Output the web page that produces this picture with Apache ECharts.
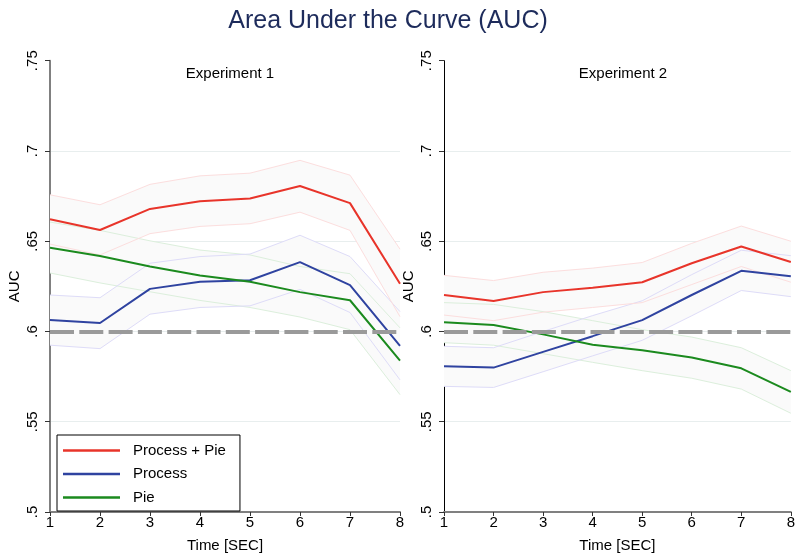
<!DOCTYPE html>
<html>
<head>
<meta charset="utf-8">
<script src="https://cdn.jsdelivr.net/npm/echarts@6/dist/echarts.min.js"></script>
<style>
html,body{margin:0;padding:0;background:#fff;}
#chart{width:798px;height:558px;}
</style>
</head>
<body>
<div id="chart"></div>
<script>
// ---- data ----
var time = [1, 2, 3, 4, 5, 6, 7, 8];
var yTicks = [0.5, 0.55, 0.6, 0.65, 0.7, 0.75];
var seriesNames = ['Process + Pie', 'Process', 'Pie'];
var panelTitles = ['Experiment 1', 'Experiment 2'];
var chanceLevel = 0.6;

// Experiment 1
var pp1      = [0.6622, 0.6562, 0.6679, 0.6721, 0.6737, 0.6806, 0.6711, 0.6264];
var pp1Upper = [0.6757, 0.6702, 0.6815, 0.6862, 0.6877, 0.6948, 0.6866, 0.6456];
var pp1Lower = [0.6484, 0.6424, 0.6542, 0.6582, 0.6597, 0.6661, 0.6560, 0.6082];
var proc1      = [0.6063, 0.6047, 0.6236, 0.6275, 0.6284, 0.6384, 0.6257, 0.5920];
var proc1Upper = [0.6202, 0.6187, 0.6378, 0.6415, 0.6429, 0.6533, 0.6415, 0.6110];
var proc1Lower = [0.5924, 0.5905, 0.6096, 0.6133, 0.6142, 0.6233, 0.6105, 0.5732];
var pie1      = [0.6464, 0.6418, 0.6360, 0.6310, 0.6275, 0.6218, 0.6173, 0.5838];
var pie1Upper = [0.6606, 0.6560, 0.6502, 0.6451, 0.6424, 0.6360, 0.6320, 0.6020];
var pie1Lower = [0.6324, 0.6269, 0.6220, 0.6172, 0.6133, 0.6080, 0.6010, 0.5650];

// Experiment 2
var pp2      = [0.6202, 0.6169, 0.6218, 0.6242, 0.6273, 0.6378, 0.6471, 0.6385];
var pp2Upper = [0.6311, 0.6282, 0.6328, 0.6351, 0.6382, 0.6488, 0.6584, 0.6500];
var pp2Lower = [0.6091, 0.6060, 0.6107, 0.6133, 0.6160, 0.6260, 0.6360, 0.6273];
var proc2      = [0.5807, 0.5800, 0.5887, 0.5974, 0.6063, 0.6202, 0.6336, 0.6306];
var proc2Upper = [0.5918, 0.5910, 0.6000, 0.6088, 0.6170, 0.6315, 0.6450, 0.6420];
var proc2Lower = [0.5696, 0.5690, 0.5777, 0.5865, 0.5951, 0.6087, 0.6227, 0.6193];
var pie2      = [0.6051, 0.6036, 0.5984, 0.5927, 0.5896, 0.5856, 0.5796, 0.5665];
var pie2Upper = [0.6160, 0.6150, 0.6110, 0.6060, 0.6010, 0.5969, 0.5910, 0.5783];
var pie2Lower = [0.5938, 0.5924, 0.5877, 0.5829, 0.5783, 0.5741, 0.5681, 0.5547];

// ---- styles ----
var FONT = 'Liberation Sans, Arial, Helvetica, sans-serif';
var lineColors = ['#e8342a', '#2f43a0', '#1b8a1e'];
var faintColors = ['#fcdede', '#dedcf8', '#dcefdc'];
var bandFill = '#fafafa';

var panels = [
  {main: [pp1, proc1, pie1], upper: [pp1Upper, proc1Upper, pie1Upper], lower: [pp1Lower, proc1Lower, pie1Lower]},
  {main: [pp2, proc2, pie2], upper: [pp2Upper, proc2Upper, pie2Upper], lower: [pp2Lower, proc2Lower, pie2Lower]}
];

function pts(arr) { return time.map(function (t, i) { return [t, arr[i]]; }); }
function fmt(v) {
  var s = v.toFixed(2).replace(/0+$/, '').replace(/\.$/, '');
  return s.replace(/^0\./, '.');
}

// band polygon drawn through the axis scales
function bandRender(params, api) {
  if (params.dataIndexInside !== 0) return null;
  var n = params.dataInsideLength;
  var top = [], bot = [];
  for (var j = 0; j < n; j++) {
    var t = api.value(0, j);
    top.push(api.coord([t, api.value(1, j)]));
    bot.unshift(api.coord([t, api.value(2, j)]));
  }
  return {
    type: 'polygon',
    shape: {points: top.concat(bot)},
    style: {fill: bandFill, stroke: null},
    silent: true
  };
}

var series = [];
panels.forEach(function (p, g) {
  // bands: Pie first, then Process, then Process + Pie on top
  [2, 1, 0].forEach(function (k) {
    series.push({
      type: 'custom', xAxisIndex: g, yAxisIndex: g, silent: true, z: 1,
      renderItem: bandRender,
      encode: {x: 0, y: [1, 2]},
      data: time.map(function (t, i) { return [t, p.upper[k][i], p.lower[k][i]]; })
    });
    [p.upper[k], p.lower[k]].forEach(function (arr) {
      series.push({
        type: 'line', xAxisIndex: g, yAxisIndex: g, silent: true,
        showSymbol: false, symbol: 'none', z: 1,
        data: pts(arr),
        lineStyle: {color: faintColors[k], width: 1},
        itemStyle: {color: faintColors[k]}
      });
    });
  });
  // chance level dashed line
  series.push({
    type: 'line', xAxisIndex: g, yAxisIndex: g, data: [], silent: true, z: 2,
    markLine: {
      silent: true, symbol: ['none', 'none'], label: {show: false},
      lineStyle: {color: '#9a9a9a', width: 4, type: [24, 5.3]},
      data: [{yAxis: chanceLevel}], animation: false
    }
  });
  // main lines
  [0, 1, 2].forEach(function (k) {
    series.push({
      name: seriesNames[k], type: 'line', xAxisIndex: g, yAxisIndex: g,
      showSymbol: false, symbol: 'none', z: 3,
      data: pts(p.main[k]),
      lineStyle: {color: lineColors[k], width: 2},
      itemStyle: {color: lineColors[k]}
    });
  });
});

function xAxisCfg(g) {
  return {
    gridIndex: g, type: 'value', min: time[0], max: time[time.length - 1], interval: 1,
    name: 'Time [SEC]', nameLocation: 'middle', nameGap: 26,
    nameTextStyle: {fontSize: 15, color: '#000', fontFamily: FONT},
    axisLine: {show: true, onZero: false, lineStyle: {color: '#808080', width: 2}},
    axisTick: {show: true, length: 4, lineStyle: {color: '#333', width: 1}},
    axisLabel: {fontSize: 15, color: '#000', margin: 3, fontFamily: FONT},
    splitLine: {show: false}
  };
}
function yAxisCfg(g) {
  return {
    gridIndex: g, type: 'value', min: yTicks[0], max: yTicks[yTicks.length - 1], interval: 0.05,
    name: 'AUC', nameLocation: 'middle', nameGap: 28, nameRotate: 90,
    nameTextStyle: {fontSize: 15, color: '#000', fontFamily: FONT},
    axisLine: {show: true, lineStyle: {color: g === 0 ? '#808080' : '#000', width: g === 0 ? 2 : 1}},
    axisTick: {show: true, length: 5, lineStyle: {color: '#333', width: 1}},
    axisLabel: {fontSize: 15, color: '#000', rotate: 90, margin: 10, fontFamily: FONT, formatter: fmt},
    splitLine: {show: true, showMinLine: false, showMaxLine: false, lineStyle: {color: '#e8eeee', width: 1}}
  };
}

var option = {
  backgroundColor: '#fff',
  animation: false,
  textStyle: {fontFamily: FONT},
  title: [
    {text: 'Area Under the Curve (AUC)', left: 383, top: 4, textAlign: 'center',
     textStyle: {fontSize: 25, fontWeight: 'normal', color: '#1d2b5b', fontFamily: FONT}},
    {text: panelTitles[0], left: 225, top: 61, textAlign: 'center',
     textStyle: {fontSize: 15, fontWeight: 'normal', color: '#000', fontFamily: FONT}},
    {text: panelTitles[1], left: 618, top: 61, textAlign: 'center',
     textStyle: {fontSize: 15, fontWeight: 'normal', color: '#000', fontFamily: FONT}}
  ],
  grid: [
    {left: 50, width: 350, top: 60.7, height: 456},
    {left: 444, width: 349, top: 60.7, height: 456}
  ],
  xAxis: [xAxisCfg(0), xAxisCfg(1)],
  yAxis: [yAxisCfg(0), yAxisCfg(1)],
  legend: {
    orient: 'vertical', left: 57, top: 435,
    data: seriesNames.map(function (n, k) { return {name: n, icon: 'rect', itemStyle: {color: lineColors[k]}}; }),
    itemWidth: 57, itemHeight: 2.5, itemGap: 8.5,
    padding: [8, 14, 6, 6],
    backgroundColor: '#fff', borderColor: '#000', borderWidth: 1, borderRadius: 0,
    selectedMode: false,
    textStyle: {fontSize: 15, color: '#000', fontFamily: FONT, padding: [0, 0, 0, 8]}
  },
  series: series
};

var chart = echarts.init(document.getElementById('chart'), null, {renderer: 'canvas'});
chart.setOption(option);
</script>
</body>
</html>
